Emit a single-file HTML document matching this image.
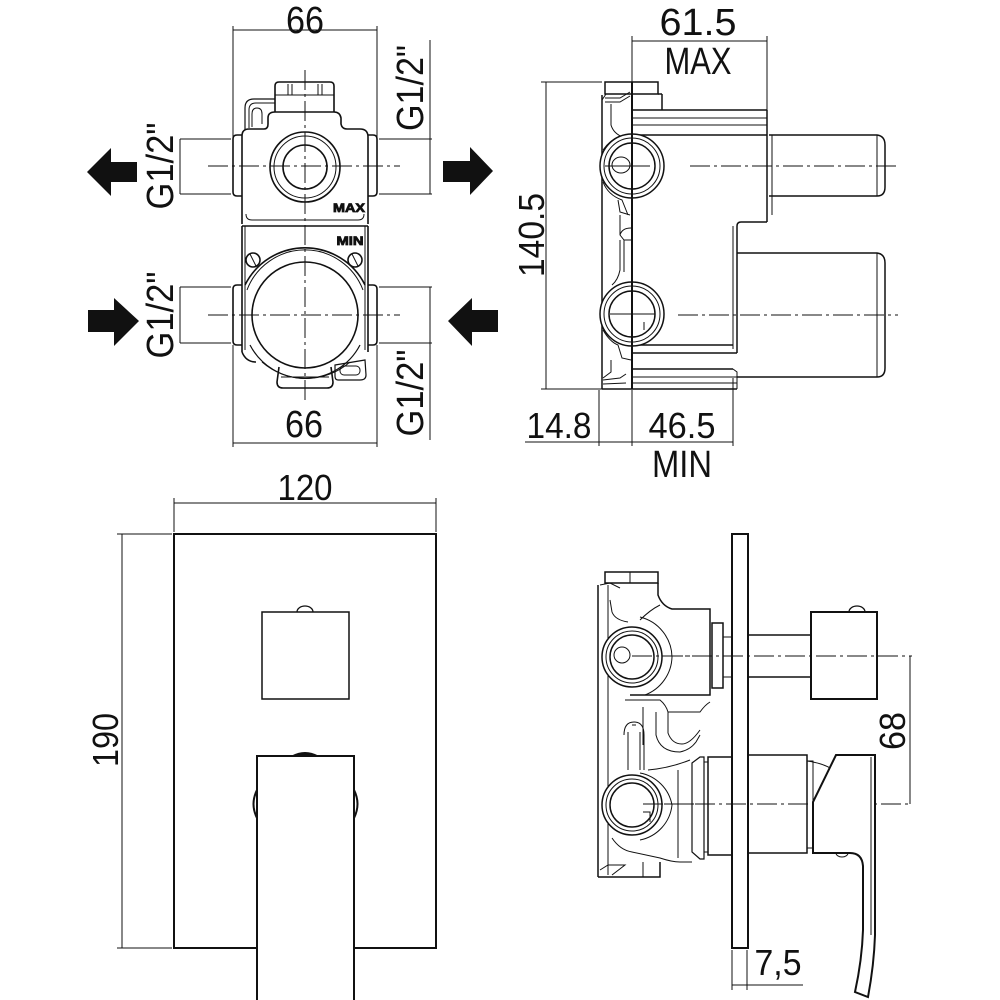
<!DOCTYPE html>
<html><head><meta charset="utf-8"><style>
html,body{margin:0;padding:0;background:#fff;}
svg{display:block;}
text{font-family:"Liberation Sans","DejaVu Sans",sans-serif;fill:#111;}
</style></head><body>
<svg width="1000" height="1000" viewBox="0 0 1000 1000" xmlns="http://www.w3.org/2000/svg">
<rect width="1000" height="1000" fill="#fff"/>
<g fill="none" stroke="#111" stroke-linecap="butt">

<!-- ============ TOP LEFT VIEW ============ -->
<g stroke-width="1">
  <!-- top dim 66 -->
  <line x1="233" y1="30" x2="377" y2="30"/>
  <line x1="233" y1="26" x2="233" y2="137"/>
  <line x1="377" y1="26" x2="377" y2="137"/>
  <!-- bottom dim 66 -->
  <line x1="233" y1="443" x2="377" y2="443"/>
  <line x1="233" y1="345" x2="233" y2="447"/>
  <line x1="377" y1="345" x2="377" y2="447"/>
  <!-- G1/2 dims left -->
  <line x1="180" y1="139" x2="231" y2="139"/>
  <line x1="180" y1="194" x2="231" y2="194"/>
  <line x1="180" y1="139" x2="180" y2="194"/>
  <line x1="180" y1="287" x2="231" y2="287"/>
  <line x1="180" y1="343" x2="231" y2="343"/>
  <line x1="180" y1="287" x2="180" y2="343"/>
  <!-- G1/2 dims right -->
  <line x1="379" y1="139" x2="432" y2="139"/>
  <line x1="379" y1="194" x2="432" y2="194"/>
  <line x1="430" y1="40" x2="430" y2="194"/>
  <line x1="379" y1="287" x2="432" y2="287"/>
  <line x1="379" y1="343" x2="432" y2="343"/>
  <line x1="430" y1="287" x2="430" y2="440"/>
</g>
<!-- centre lines -->
<g stroke-width="1" stroke-dasharray="20 4 3 4">
  <line x1="208" y1="166" x2="400" y2="166"/>
  <line x1="208" y1="315" x2="400" y2="315"/>
  <line x1="305" y1="70" x2="305" y2="403"/>
</g>
<!-- body -->
<g stroke-width="1.6">
  <!-- upper body -->
  <path d="M242,224 L242,136 Q242,129 249,129 L264,129 Q268,129 268,124 L268,118 Q268,112 275,112 L334,112 Q340,112 341,118 L341,124 Q342,129 347,129 L360,129 Q368,129 368,137 L368,224"/>
  <!-- cap -->
  <path d="M275,112 L275,86 Q275,82 279,82 L330,82 Q334,82 334,86 L334,112"/>
  <line x1="275" y1="95" x2="334" y2="95" stroke-width="1"/>
  <line x1="288" y1="84" x2="288" y2="95" stroke-width="1"/>
  <line x1="292" y1="84" x2="292" y2="95" stroke-width="1"/>
  <line x1="318" y1="84" x2="318" y2="95" stroke-width="1"/>
  <line x1="322" y1="84" x2="322" y2="95" stroke-width="1"/>
  <!-- left hook tab -->
  <path d="M245,130 L245,108 Q245,99 254,99 L275,99" stroke-width="1.2"/>
  <path d="M249,128 L249,110 Q249,103 256,103 L275,103" stroke-width="1"/>
  <path d="M252,127 L252,114 Q252,108 257,108 Q262,108 262,114 L262,124" stroke-width="1"/>
  <!-- bosses -->
  <path d="M242,135 L237,135 Q233,135 233,139 L233,192 Q233,196 237,196 L242,196"/>
  <path d="M368,135 L373,135 Q377,135 377,139 L377,192 Q377,196 373,196 L368,196"/>
  <path d="M242,285 L237,285 Q233,285 233,289 L233,341 Q233,345 237,345 L242,345"/>
  <path d="M368,285 L373,285 Q377,285 377,289 L377,341 Q377,345 373,345 L368,345"/>
  <!-- upper circles -->
  <circle cx="305" cy="167" r="35"/>
  <circle cx="305" cy="167" r="31" stroke-width="1"/>
  <circle cx="305" cy="167" r="22"/>
  <!-- ledge -->
  <path d="M246,214 Q246,220 252,220 L358,220 Q364,220 364,214" stroke-width="1"/>
  <line x1="242" y1="226" x2="368" y2="226"/>
  <!-- middle/lower sides -->
  <line x1="242" y1="226" x2="242" y2="352"/>
  <line x1="245" y1="226" x2="245" y2="350" stroke-width="1"/>
  <line x1="368" y1="226" x2="368" y2="352"/>
  <line x1="365" y1="226" x2="365" y2="350" stroke-width="1"/>
  <path d="M242,352 Q246,362 256,362"/>
  <!-- lower circles -->
  <path d="M245,285 A67,67 0 0 1 365,285"/>
  <path d="M247,290 A62,62 0 0 1 363,290" stroke-width="1"/>
  <circle cx="305" cy="315" r="53"/>
  <path d="M250,345 A62,62 0 0 0 360,345" stroke-width="1.2"/>
  <path d="M262,362 A67,67 0 0 0 350,362" stroke-width="1"/>
  <!-- screws -->
  <circle cx="253" cy="260" r="7"/>
  <line x1="250" y1="254" x2="256" y2="266" stroke-width="1"/>
  <circle cx="355" cy="260" r="7"/>
  <line x1="352" y1="254" x2="358" y2="266" stroke-width="1"/>
  <!-- bottom tab -->
  <path d="M279,367 L277,382 Q277,388 283,388 L327,388 Q333,388 333,382 L331,367"/>
  <line x1="281" y1="377" x2="329" y2="377" stroke-width="1"/>
  <!-- right bottom slot -->
  <path d="M335,365 L365,360 L366,375 Q366,380 360,380 L338,380 Q335,380 335,376 Z" stroke-width="1.2"/>
  <rect x="340" y="366" width="20" height="9" rx="4" stroke-width="1"/>
</g>
</g>
<!-- small labels inside body -->
<text x="349" y="212" font-size="12" font-weight="bold" text-anchor="middle" textLength="32" lengthAdjust="spacingAndGlyphs" fill="#fff" stroke="#111" stroke-width="0.8">MAX</text>
<text x="350" y="245" font-size="12" font-weight="bold" text-anchor="middle" textLength="27" lengthAdjust="spacingAndGlyphs" fill="#fff" stroke="#111" stroke-width="0.8">MIN</text>

<!-- arrows -->
<g fill="#111" stroke="none">
  <polygon points="87,172 111,148 111,162 137,162 137,182 111,182 111,196"/>
  <polygon points="493,171 470,147 470,161 443,161 443,182 470,182 470,195"/>
  <polygon points="139,321 114,298 114,310 88,310 88,332 114,332 114,346"/>
  <polygon points="448,321 472,298 472,310 498,310 498,332 472,332 472,346"/>
</g>

<!-- top-left texts -->
<text x="305" y="33" font-size="38" text-anchor="middle" textLength="38" lengthAdjust="spacingAndGlyphs">66</text>
<text x="304" y="437" font-size="38" text-anchor="middle" textLength="38" lengthAdjust="spacingAndGlyphs">66</text>
<text transform="translate(173,166) rotate(-90)" font-size="38" text-anchor="middle" textLength="87" lengthAdjust="spacingAndGlyphs">G1/2"</text>
<text transform="translate(173,315) rotate(-90)" font-size="38" text-anchor="middle" textLength="87" lengthAdjust="spacingAndGlyphs">G1/2"</text>
<text transform="translate(423,88) rotate(-90)" font-size="38" text-anchor="middle" textLength="86" lengthAdjust="spacingAndGlyphs">G1/2"</text>
<text transform="translate(423,393) rotate(-90)" font-size="38" text-anchor="middle" textLength="87" lengthAdjust="spacingAndGlyphs">G1/2"</text>

<!-- ============ TOP RIGHT VIEW ============ -->
<g fill="none" stroke="#111">
<g stroke-width="1">
  <line x1="632" y1="41" x2="767" y2="41"/>
  <line x1="632" y1="36" x2="632" y2="82"/>
  <line x1="767" y1="36" x2="767" y2="110"/>
  <line x1="546" y1="82" x2="546" y2="389"/>
  <line x1="541" y1="82" x2="602" y2="82"/>
  <line x1="541" y1="389" x2="632" y2="389"/>
  <line x1="525" y1="442" x2="733" y2="442"/>
  <line x1="599" y1="390" x2="599" y2="446"/>
  <line x1="632" y1="390" x2="632" y2="446"/>
  <line x1="733" y1="378" x2="733" y2="446"/>
</g>
<g stroke-width="1" stroke-dasharray="20 4 3 4">
  <line x1="690" y1="166" x2="898" y2="166"/>
  <line x1="678" y1="315" x2="898" y2="315"/>
</g>
<g stroke-width="1.5">
  <!-- cap -->
  <rect x="605" y="82" width="53" height="12"/>
  <line x1="658" y1="94" x2="662" y2="94"/>
  <line x1="662" y1="94" x2="662" y2="110"/>
  <!-- main vertical -->
  <line x1="632" y1="82" x2="632" y2="389" stroke-width="2"/>
  <!-- left frame -->
  <line x1="602" y1="95" x2="602" y2="389"/>
  <path d="M606,94 L602,100" stroke-width="1"/>
  <path d="M605,98 L620,98 L630,92" stroke-width="1"/>
  <path d="M605,102 L620,102 L630,96" stroke-width="1"/>
  <path d="M611,104 L611,125 Q614,135 626,138" stroke-width="1"/>
  <path d="M603,150 Q610,140 620,136" stroke-width="1"/>
  <path d="M603,182 Q608,195 622,200 L626,210 L628,215" stroke-width="1"/>
  <path d="M618,200 L620,212 L630,215" stroke-width="1"/>
  <path d="M620,215 L620,235 L624,240 L631,240" stroke-width="1"/>
  <path d="M620,235 Q622,228 631,228" stroke-width="1"/>
  <path d="M620,240 L620,270 Q618,280 612,285" stroke-width="1"/>
  <path d="M624,240 L624,272" stroke-width="1"/>
  <path d="M603,330 Q610,342 618,345 L622,358 L631,360" stroke-width="1"/>
  <path d="M611,360 L611,372 L603,378" stroke-width="1"/>
  <path d="M603,380 L620,378 L626,374" stroke-width="1"/>
  <path d="M603,384 L626,383" stroke-width="1"/>
  <line x1="602" y1="389" x2="632" y2="389"/>
  <!-- top flange -->
  <line x1="632" y1="110" x2="767" y2="110"/>
  <line x1="632" y1="118" x2="767" y2="118" stroke-width="1"/>
  <line x1="632" y1="125" x2="767" y2="125" stroke-width="1"/>
  <line x1="632" y1="135" x2="767" y2="135"/>
  <line x1="767" y1="110" x2="767" y2="222"/>
  <line x1="772" y1="135" x2="772" y2="215" stroke-width="1"/>
  <!-- step -->
  <path d="M767,222 L741,222 Q737,222 737,226 L737,353"/>
  <line x1="733" y1="226" x2="733" y2="349" stroke-width="1"/>
  <line x1="632" y1="345" x2="733" y2="345"/>
  <line x1="632" y1="353" x2="737" y2="353"/>
  <!-- bottom flange -->
  <line x1="632" y1="369" x2="733" y2="369"/>
  <line x1="632" y1="377" x2="737" y2="377" stroke-width="1"/>
  <line x1="632" y1="383" x2="737" y2="383" stroke-width="1"/>
  <line x1="632" y1="389" x2="737" y2="389"/>
  <path d="M733,369 L737,372 L737,389" stroke-width="1"/>
  <!-- upper spindle -->
  <path d="M769,135 L877,135 Q885,136 885,145 L885,187 Q885,196 877,196 L769,196"/>
  <line x1="877" y1="135" x2="877" y2="196" stroke-width="1"/>
  <!-- lower cylinder -->
  <path d="M737,253 L877,253 Q885,254 885,263 L885,368 Q885,377 877,377 L737,377"/>
  <line x1="877" y1="253" x2="877" y2="377" stroke-width="1"/>
  <!-- port circles -->
  <circle cx="632" cy="166" r="32" fill="#fff"/>
  <circle cx="632" cy="166" r="28" stroke-width="1"/>
  <circle cx="632" cy="166" r="23"/>
  <ellipse cx="621" cy="165" rx="9" ry="8" stroke-width="1"/>
  <line x1="605" y1="166" x2="650" y2="166" stroke-width="1"/>
  <line x1="632" y1="134" x2="632" y2="198" stroke-width="2"/>
  <circle cx="632" cy="314" r="32" fill="#fff"/>
  <circle cx="632" cy="314" r="28" stroke-width="1"/>
  <circle cx="632" cy="314" r="23"/>
  <path d="M644,322 L644,330" stroke-width="1"/>
  <line x1="610" y1="314" x2="655" y2="314" stroke-width="1"/>
  <line x1="632" y1="282" x2="632" y2="346" stroke-width="2"/>
</g>
</g>
<text x="698" y="35" font-size="38" text-anchor="middle" textLength="77" lengthAdjust="spacingAndGlyphs">61.5</text>
<text x="698" y="74" font-size="38" text-anchor="middle" textLength="67" lengthAdjust="spacingAndGlyphs">MAX</text>
<text transform="translate(544,235) rotate(-90)" font-size="36" text-anchor="middle" textLength="84" lengthAdjust="spacingAndGlyphs">140.5</text>
<text x="559" y="438" font-size="36" text-anchor="middle" textLength="65" lengthAdjust="spacingAndGlyphs">14.8</text>
<text x="682" y="438" font-size="36" text-anchor="middle" textLength="67" lengthAdjust="spacingAndGlyphs">46.5</text>
<text x="682" y="477" font-size="38" text-anchor="middle" textLength="60" lengthAdjust="spacingAndGlyphs">MIN</text>

<!-- ============ BOTTOM LEFT VIEW ============ -->
<g fill="none" stroke="#111">
<g stroke-width="1">
  <line x1="174" y1="503" x2="436" y2="503"/>
  <line x1="174" y1="498" x2="174" y2="532"/>
  <line x1="436" y1="498" x2="436" y2="532"/>
  <line x1="122" y1="534" x2="122" y2="948"/>
  <line x1="117" y1="534" x2="172" y2="534"/>
  <line x1="117" y1="948" x2="172" y2="948"/>
</g>
<rect x="174" y="534" width="262" height="414" stroke-width="2"/>
<rect x="262" y="612" width="87" height="87" stroke-width="1.5"/>
<path d="M297,612 A8,6 0 0 1 313,612" stroke-width="1.3"/>
<path d="M257,790 Q250,804 257,818" stroke-width="2"/>
<path d="M354,790 Q361,804 354,818" stroke-width="2"/>
<rect x="257" y="756" width="97" height="250" fill="#fff" stroke-width="2"/>
<path d="M292,756 Q305,749 318,756 Z" fill="#111" stroke-width="1"/>
</g>
<text x="305" y="500" font-size="36" text-anchor="middle" textLength="55" lengthAdjust="spacingAndGlyphs">120</text>
<text transform="translate(118,740) rotate(-90)" font-size="36" text-anchor="middle" textLength="54" lengthAdjust="spacingAndGlyphs">190</text>

<!-- ============ BOTTOM RIGHT VIEW ============ -->
<g fill="none" stroke="#111">
<g stroke-width="1" stroke-dasharray="20 4 3 4">
  <line x1="630" y1="656" x2="912" y2="656"/>
  <line x1="633" y1="804" x2="912" y2="804"/>
</g>
<g stroke-width="1">
  <line x1="910" y1="656" x2="910" y2="804"/>
  <line x1="732" y1="950" x2="732" y2="990"/>
  <line x1="747" y1="950" x2="747" y2="990"/>
  <line x1="732" y1="985" x2="803" y2="985"/>
</g>
<g stroke-width="1.5">
  <!-- plate -->
  <rect x="732" y="534" width="16" height="414" stroke-width="2"/>
  <!-- diverter knob -->
  <line x1="748" y1="635" x2="811" y2="635"/>
  <line x1="748" y1="677" x2="811" y2="677"/>
  <rect x="811" y="612" width="66" height="87" stroke-width="2"/>
  <path d="M849,612 A8,6 0 0 1 865,612" stroke-width="1.3"/>
  <!-- stub -->
  <rect x="712" y="623" width="11" height="65"/>
  <rect x="723" y="637" width="9" height="40" stroke-width="1"/>
  <!-- mixer body -->
  <rect x="748" y="755" width="59" height="98"/>
  <rect x="807" y="761" width="6" height="87" stroke-width="1"/>
  <path d="M807,761 Q822,763 832,769" stroke-width="1"/>
  <!-- lever -->
  <path d="M836,755 L875,755 L875,935 Q874,965 868,997 L855,992 Q862,960 863,930 L863,866 Q862,853 850,853 L813,853 L813,802 Z" fill="#fff" stroke-width="2"/>
  <line x1="871" y1="757" x2="871" y2="935" stroke-width="1"/>
  <path d="M836,853 A6,4 0 0 0 848,853" stroke-width="1"/>
  <!-- flange left of plate -->
  <path d="M692,763 L700,757 L704,757 L704,859 L700,859 L692,852 Z" stroke-width="1.2"/>
  <rect x="704" y="762" width="4" height="90" stroke-width="1"/>
  <rect x="708" y="757" width="24" height="98"/>
  <!-- valve body -->
  <rect x="605" y="572" width="53" height="11"/>
  <line x1="630" y1="572" x2="630" y2="583" stroke-width="1"/>
  <line x1="598" y1="585" x2="598" y2="877"/>
  <line x1="608" y1="585" x2="608" y2="875" stroke-width="1"/>
  <path d="M600,585 L610,583 L620,588" stroke-width="1"/>
  <path d="M658,583 L658,595 Q662,606 672,609 L710,609 L710,695 L630,695"/>
  <path d="M610,600 L612,612 Q615,620 628,622" stroke-width="1"/>
  <path d="M640,620 Q650,610 660,605" stroke-width="1"/>
  <path d="M640,617 A42,42 0 0 1 672,657 A42,42 0 0 1 645,695" stroke-width="1"/>
  <path d="M625,700 L660,700 Q666,705 668,712 L700,712 Q705,705 710,702" stroke-width="1"/>
  <path d="M643,707 L643,745" stroke-width="1"/>
  <path d="M656,712 L656,735 Q660,752 680,752 Q690,750 696,742 L700,735" stroke-width="1"/>
  <path d="M668,712 L668,733 Q672,744 682,744 Q690,744 700,730" stroke-width="1"/>
  <path d="M628,732 L628,770 M640,732 L640,770 M632,725 L636,725" stroke-width="1"/>
  <path d="M624,735 Q624,722 634,722 Q644,722 644,735 L644,770" stroke-width="1"/>
  <path d="M648,770 Q670,768 690,760" stroke-width="1"/>
  <path d="M678,770 L678,858" stroke-width="1"/>
  <path d="M640,773 A40,40 0 0 1 672,805 A40,40 0 0 1 640,840" stroke-width="1"/>
  <path d="M612,838 Q620,850 632,852 L660,858 Q672,862 680,862 L692,862" stroke-width="1"/>
  <path d="M600,870 L608,865 L625,865 L612,875" stroke-width="1"/>
  <path d="M598,877 L660,877 L660,862" />
  <line x1="643" y1="862" x2="643" y2="877" stroke-width="1"/>
  <!-- port circles -->
  <circle cx="632" cy="657" r="30" fill="#fff"/>
  <circle cx="632" cy="657" r="26" stroke-width="1"/>
  <circle cx="632" cy="657" r="22"/>
  <circle cx="622" cy="655" r="8" stroke-width="1"/>
  <circle cx="632" cy="805" r="30" fill="#fff"/>
  <circle cx="632" cy="805" r="26" stroke-width="1"/>
  <circle cx="632" cy="805" r="22"/>
  <path d="M643,812 L650,812 L650,822" stroke-width="1"/>
</g>
<g stroke-width="1" stroke-dasharray="20 4 3 4">
  <line x1="632" y1="656" x2="700" y2="656"/>
  <line x1="643" y1="804" x2="700" y2="804"/>
</g>
</g>
<text transform="translate(905,731) rotate(-90)" font-size="36" text-anchor="middle" textLength="38" lengthAdjust="spacingAndGlyphs">68</text>
<text x="778" y="975" font-size="36" text-anchor="middle" textLength="47" lengthAdjust="spacingAndGlyphs">7,5</text>

</svg>
</body></html>
